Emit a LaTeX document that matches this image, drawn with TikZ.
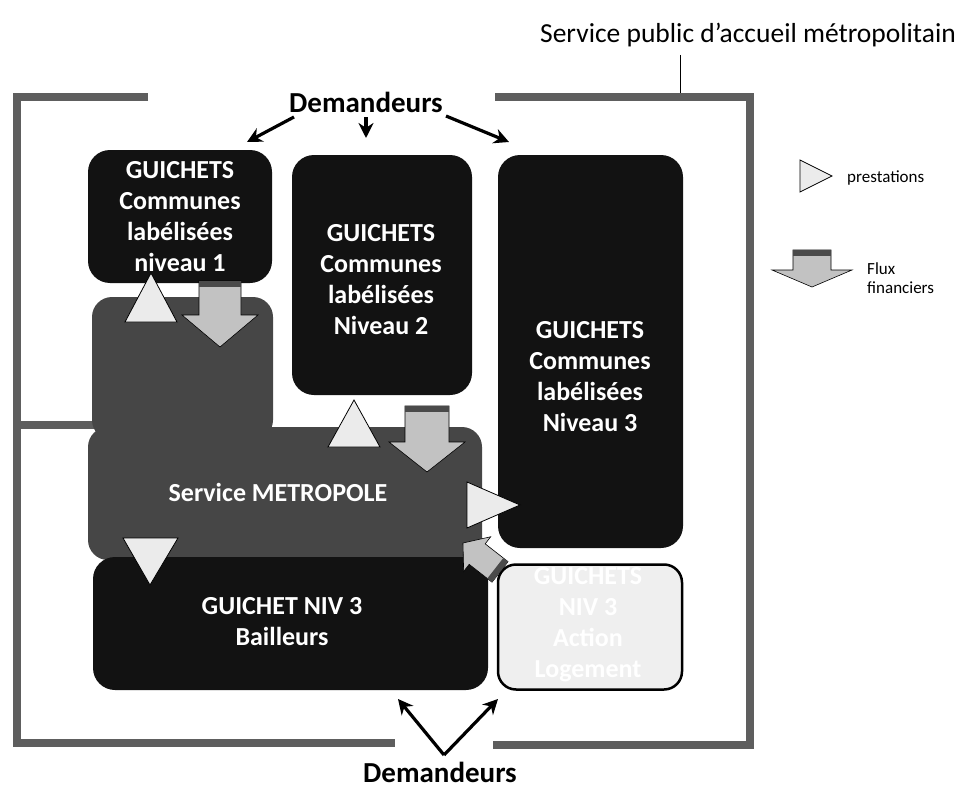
\documentclass[tikz,border=0pt]{standalone}
\usepackage{fontspec}
\setmainfont{Carlito}
\usetikzlibrary{arrows.meta}
\definecolor{boxblack}{HTML}{121212}
\definecolor{metrogray}{HTML}{464646}
\definecolor{framegray}{HTML}{5E5E5E}
\definecolor{trifill}{HTML}{EBEBEB}
\definecolor{fluxfill}{HTML}{C2C2C2}
\definecolor{fluxband}{HTML}{4A4A4A}
\definecolor{lightfill}{HTML}{EFEFEF}
\tikzset{
  pics/flux/.style n args={4}{code={
    \filldraw[fill=fluxfill, draw=black, line width=0.6pt]
      (-#1,-#4-#2) -- (#1,-#4-#2) -- (#1,-#4) -- (#3,-#4) -- (0,0)
      -- (-#3,-#4) -- (-#1,-#4) -- cycle;
    \fill[fluxband] (-#1,-#4-#2) rectangle (#1,-#4-#2+6);
  }}
}
\begin{document}
\begin{tikzpicture}[x=1pt,y=-1pt,
  blackbox/.style={fill=boxblack, rounded corners=22pt, inner sep=0pt},
  boxtext/.style={text=white, font=\fontsize{26}{31}\selectfont\bfseries, align=center, inner sep=0pt},
  frameline/.style={draw=framegray, line width=8pt},
  presta/.style={fill=trifill, draw=black, line width=0.8pt, line join=miter},
  demarrow/.style={draw=black, line width=3.2pt, -{Stealth[length=15pt,width=15pt]}},
  demtext/.style={font=\fontsize{29}{34}\selectfont\bfseries, inner sep=0pt},
  legtext/.style={font=\fontsize{17}{19}\selectfont, align=left, inner sep=0pt, anchor=west}
]
\useasboundingbox (0,0) rectangle (967,792);

% outer frame
\draw[frameline] (148,97) -- (17,97) -- (17,743) -- (395,743);
\draw[frameline] (495,97) -- (750,97) -- (750,745) -- (493,745);
\draw[frameline] (17,425) -- (100,425);

% title
\node[font=\fontsize{27.5}{31}\selectfont, inner sep=0pt] (title) at (748,35) {Service public d’accueil métropolitain};
\coordinate (tl1) at (680,55);
\coordinate (tl2) at (680,93);
\draw[line width=1pt] (tl1) -- (tl2);

% Metropole shape
\fill[metrogray, rounded corners=20pt] (92,297) rectangle (273,440);
\fill[metrogray, rounded corners=20pt] (88,427) rectangle (482,560);
\node[boxtext] (metro) at (278,492) {Service METROPOLE};

% boxes
\node[blackbox, minimum width=184pt, minimum height=133pt] (g1) at (180,216.5) {};
\node[boxtext] at (180,217) {GUICHETS\\Communes\\labélisées\\niveau 1};
\node[blackbox, minimum width=180pt, minimum height=240pt] (g2) at (382,275) {};
\node[boxtext] at (381,280) {GUICHETS\\Communes\\labélisées\\Niveau 2};
\node[blackbox, minimum width=185pt, minimum height=393pt] (g3) at (590.5,351.5) {};
\node[boxtext] at (590,377) {GUICHETS\\Communes\\labélisées\\Niveau 3};
\node[blackbox, minimum width=395pt, minimum height=133pt] (g4) at (290.5,623.5) {};
\node[boxtext] at (282,622) {GUICHET NIV 3\\Bailleurs};
\node[draw=black, fill=lightfill, line width=2.5pt, rounded corners=18pt,
      minimum width=184pt, minimum height=125pt, inner sep=0pt] (g5) at (590,627) {};
\node[boxtext, text=white] at (588,625) {GUICHETS\\NIV 3\\Action\\Logement};

% prestations triangles
\filldraw[presta] (151,273) -- (177,322) -- (125,322) -- cycle;
\filldraw[presta] (354,400) -- (380,447) -- (328,447) -- cycle;
\filldraw[presta] (123,538) -- (178,538) -- (150,585) -- cycle;
\filldraw[presta] (467,482) -- (520,505) -- (467,528) -- cycle;

% financial flows
\pic at (220,347) {flux={21}{34}{38}{32}};
\pic at (427,472) {flux={22}{36}{38}{30}};
\pic[rotate=232] at (463,543) {flux={13}{29}{22}{18}};

% demandeurs top
\node[demtext] (dtop) at (366,102) {Demandeurs};
\coordinate (a1s) at (294,117);
\coordinate (a1e) at (247,142);
\coordinate (a2s) at (366,117);
\coordinate (a2e) at (366,138);
\coordinate (a3s) at (446,116);
\coordinate (a3e) at (509,142);
\draw[demarrow] (a1s) -- (a1e);
\draw[demarrow] (a2s) -- (a2e);
\draw[demarrow] (a3s) -- (a3e);

% demandeurs bottom
\node[demtext] (dbot) at (440,772) {Demandeurs};
\coordinate (vb) at (444,755);
\coordinate (vl) at (398,699);
\coordinate (vr) at (498,699);
\draw[demarrow] (vb) -- (vl);
\draw[demarrow] (vb) -- (vr);

% legend
\filldraw[presta] (800,160) -- (832,176) -- (800,192) -- cycle;
\node[legtext] (lp) at (847,178) {prestations};
\pic at (812,287) {flux={19}{20}{40}{17}};
\node[legtext] (lf) at (867,278) {Flux\\financiers};
\end{tikzpicture}
\end{document}
